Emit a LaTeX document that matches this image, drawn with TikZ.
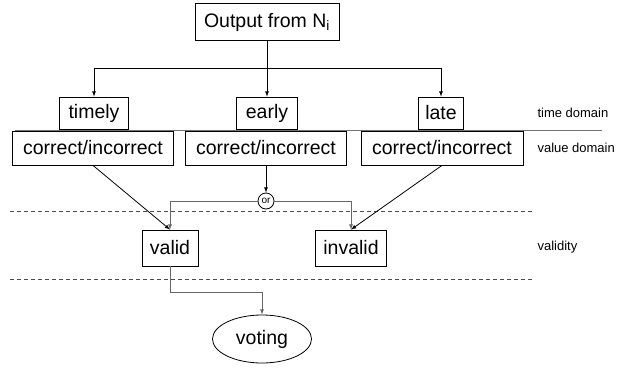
\documentclass[tikz,border=0pt]{standalone}
\usepackage{fontspec}
\setmainfont{Liberation Sans}
\usetikzlibrary{calc}
\usetikzlibrary{arrows}
\usetikzlibrary{shapes.geometric}
\tikzset{
  box/.style={draw, line width=0.8pt, inner xsep=9pt, minimum height=34pt,
    font=\fontsize{19.5}{22}\selectfont},
  orc/.style={draw, circle, line width=0.8pt, inner sep=1pt, minimum size=16pt,
    font=\fontsize{10}{11}\selectfont},
  lbl/.style={anchor=west, font=\fontsize{13}{15}\selectfont},
  conn/.style={->, >=latex, line width=0.8pt},
  gconn/.style={conn, draw=black!60},
  sepline/.style={line width=1pt, draw=black!55},
  dotline/.style={line width=0.8pt, draw=black!70, dash pattern=on 4pt off 3pt}
}
\begin{document}
\begin{tikzpicture}[x=1pt,y=-1pt]
    \useasboundingbox (0,0) rectangle (623,375);
    % Boites
    \node[box, minimum height=37pt] (out) at (267,22) {Output from N\textsubscript{i}};
    \node[box, minimum height=32pt] (timely) at (94,113) {timely};
    \node[box, minimum height=32pt] (early) at (267,113) {early};
    \node[box, minimum height=32pt, inner xsep=7pt] (late) at (441,113) {late};
    \node[box, inner xsep=11pt] (ci1) at (93,148) {correct/incorrect};
    \node[box, inner xsep=11pt] (ci2) at (266,148) {correct/incorrect};
    \node[box, inner xsep=11pt] (ci3) at (442,148) {correct/incorrect};
    \node[orc] (or) at (266,201) {or};
    \node[box, minimum height=36pt, inner xsep=8pt] (valid) at (170,248) {valid};
    \node[box, minimum height=36pt, inner xsep=8pt] (invalid) at (351,248) {invalid};
    \node[box, ellipse, minimum width=88pt, minimum height=48pt] (voting) at (262,339) {voting};
    % Domaines
    \node[lbl] (tdom) at (534,113) {time domain};
    \node[lbl] (vdom) at (534,148) {value domain};
    \node[lbl] (vld) at (534,247) {validity};
    % Separations
    \coordinate (sepL) at (15,130);
    \coordinate (sepR) at (602,130);
    \draw[sepline] (sepL) -- (sepR);
    \coordinate (daL) at (10,211);
    \coordinate (daR) at (532,211);
    \draw[dotline] (daL) -- (daR);
    \coordinate (dbL) at (10,279);
    \coordinate (dbR) at (532,279);
    \draw[dotline] (dbL) -- (dbR);
    % Fleches
    \coordinate (br) at (267,68);
    \draw[conn] (out) -- (early);
    \draw[conn] (br) -| (timely);
    \draw[conn] (br) -| (late);
    \draw[conn] (ci2) -- (or);
    \draw[gconn] (or) -| (valid);
    \draw[gconn] (or) -| (invalid);
    \draw[conn] (ci1.south) -- (valid.north);
    \draw[conn] (ci3.south) -- (invalid.north);
    \draw[gconn] (valid.south) -- ++(0,26) -| (voting.north);
\end{tikzpicture}
\end{document}
